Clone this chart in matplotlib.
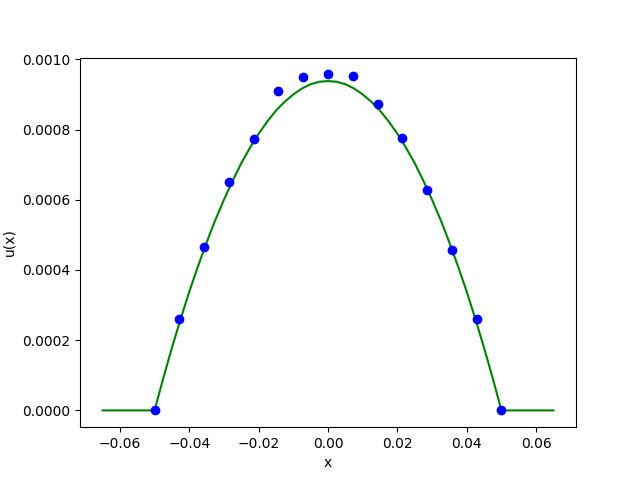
import numpy as np
import matplotlib
matplotlib.use("Agg")
import matplotlib.pyplot as plt

# measured points
x_pts = [-0.05, -0.0429, -0.0357, -0.0286, -0.0214, -0.0143, -0.0071, 0.0,
         0.0071, 0.0143, 0.0214, 0.0286, 0.0357, 0.0429, 0.05]
u_pts = [0.0, 0.000261, 0.000464, 0.00065, 0.000772, 0.000909, 0.000949, 0.000957,
         0.000952, 0.000872, 0.000775, 0.000627, 0.000456, 0.000259, 0.0]

# fitted curve
x_half = [0.0, 0.0025, 0.005, 0.0075, 0.01, 0.0125, 0.015, 0.0175, 0.02, 0.0225,
          0.025, 0.0275, 0.03, 0.0325, 0.035, 0.0375, 0.04, 0.0425, 0.045, 0.0475,
          0.05, 0.055, 0.06, 0.065]
u_half = [0.000938, 0.000936, 0.000929, 0.000917, 0.0009, 0.000879, 0.000854, 0.000823,
          0.000788, 0.000748, 0.000704, 0.000654, 0.0006, 0.000542, 0.000478, 0.00041,
          0.000338, 0.00026, 0.000178, 0.0000915, 0.0, 0.0, 0.0, 0.0]
x_line = [-v for v in x_half[:0:-1]] + x_half
u_line = u_half[:0:-1] + u_half

fig, ax = plt.subplots(figsize=(6.4, 4.8), dpi=100)
ax.plot(x_line, u_line, color='green')
ax.plot(x_pts, u_pts, 'bo')
ax.set_xlabel('x')
ax.set_ylabel('u(x)')
fig.savefig('out.png')
